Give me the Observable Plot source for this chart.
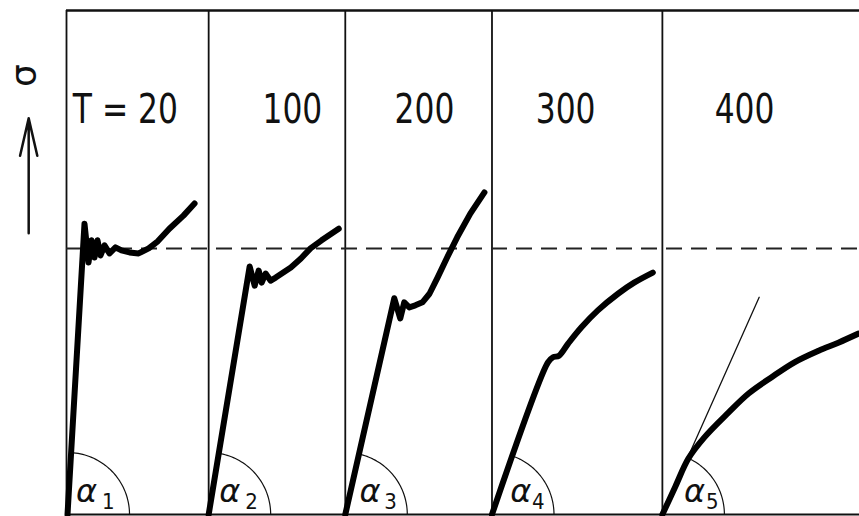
<!DOCTYPE html>
<html><head><meta charset="utf-8">
<script src="https://cdn.jsdelivr.net/npm/d3@7"></script>
<script src="https://cdn.jsdelivr.net/npm/@observablehq/plot@0.6"></script>
<style>body{margin:0;background:#fff} svg{display:block;background:#fff}</style>
</head><body><div id="chart"></div>
<script>
// Temperature panels (labels) and where each panel starts on the strain axis (arbitrary units)
const temps = ["T = 20", "100", "200", "300", "400"];
const panelStart = [0, 28.2, 55.3, 84.4, 118.2];
const panelEnd = 157.3;
const labelX = [11.7, 44.8, 71.0, 99.0, 134.5];
const labelY = 80.2;
const yieldStress = 52.8;

// Stress-strain curves, strain measured from each panel's origin
const strain1 = [0.2, 3.57, 4.37, 4.96, 5.56, 6.15, 6.75, 7.54, 8.53, 9.72, 10.9, 12.5, 14.3, 16.3, 18.1, 20.4, 23.2, 25.4];
const stress1 = [0, 57.7, 50.0, 54.4, 51.0, 54.4, 51.4, 53.4, 51.8, 53.0, 52.4, 52.0, 51.8, 52.8, 54.2, 56.7, 59.3, 61.7];
const strain2 = [0, 8.13, 9.13, 9.92, 10.5, 11.3, 12.3, 13.3, 14.5, 16.3, 18.3, 20.2, 22.4, 25.8];
const stress2 = [0, 49.2, 45.4, 48.4, 46.0, 47.8, 46.4, 47.0, 47.8, 49.0, 50.8, 52.8, 54.4, 56.7];
const strain3 = [0, 9.72, 10.9, 11.7, 12.7, 13.9, 15.3, 16.7, 18.3, 20.2, 22.2, 24.8, 27.6];
const stress3 = [0, 42.9, 38.9, 42.1, 41.1, 41.5, 42.1, 43.8, 47.0, 51.0, 55.0, 59.7, 63.9];
const strain4 = [0, 11.1, 12.1, 13.3, 15.1, 17.7, 21.0, 25.0, 28.2, 31.9];
const stress4 = [0, 30.2, 31.2, 31.5, 33.9, 37.1, 40.5, 43.8, 46.0, 48.0];
const strain5 = [0, 2.58, 5.16, 8.33, 13.1, 17.1, 21.6, 26.2, 31.0, 34.9, 38.9];
const stress5 = [0, 5.56, 11.1, 15.3, 20.2, 24.0, 27.2, 30.2, 32.5, 34.1, 35.9];
// Initial tangent drawn in the 400 panel
const tangentStrain = [0, 19.2];
const tangentStress = [0, 43.1];

// Angle labels α1..α5
const alphaSub = ["1", "2", "3", "4", "5"];
const alphaX = [4.0, 4.2, 4.9, 5.7, 6.4];
const subX = [8.3, 8.5, 9.0, 9.2, 9.9];
const alphaY = 4.6, subY = 2.5;
const arcRadius = 12.3;

const strains = [strain1, strain2, strain3, strain4, strain5];
const stresses = [stress1, stress2, stress3, stress4, stress5];

const curveRows = strains.flatMap((s, i) => s.map((e, j) => ({panel: i, x: panelStart[i] + e, y: stresses[i][j]})));
const tangentRows = tangentStrain.map((e, j) => ({x: panelStart[4] + e, y: tangentStress[j]}));

// Arcs marking the initial slope angle α of each curve
const arcRows = strains.flatMap((s, i) => {
  const ex = i === 4 ? tangentStrain[1] : s[1] - s[0];
  const ey = i === 4 ? tangentStress[1] : stresses[i][1];
  const th = Math.atan2(ey, ex);
  const n = 40;
  return d3.range(n + 1).map(k => {
    const a = th * k / n;
    return {panel: i, x: panelStart[i] + s[0] + arcRadius * Math.cos(a), y: arcRadius * Math.sin(a)};
  });
});

const labelFont = "'DejaVu Sans Condensed', 'DejaVu Sans', sans-serif";

const chart = Plot.plot({
  width: 859,
  height: 516,
  marginLeft: 66,
  marginRight: 0,
  marginTop: 10,
  marginBottom: 2,
  x: {domain: [0, panelEnd], axis: null},
  y: {domain: [0, 100], axis: null},
  style: {background: "#fff", color: "#111"},
  marks: [
    Plot.ruleY([0], {stroke: "#111", strokeWidth: 2}),
    Plot.ruleY([100], {stroke: "#111", strokeWidth: 2.4}),
    Plot.ruleX(panelStart, {y1: 0, y2: 100, stroke: "#111", strokeWidth: 1.8}),
    Plot.ruleY([yieldStress], {stroke: "#222", strokeWidth: 2, strokeDasharray: "16,9"}),
    Plot.line(arcRows, {x: "x", y: "y", z: "panel", stroke: "#111", strokeWidth: 1.2}),
    Plot.line(tangentRows, {x: "x", y: "y", stroke: "#111", strokeWidth: 1.3}),
    Plot.line(curveRows.filter(d => d.panel < 3), {x: "x", y: "y", z: "panel", stroke: "#000", strokeWidth: 6, strokeLinejoin: "round", strokeLinecap: "round"}),
    Plot.line(curveRows.filter(d => d.panel >= 3), {x: "x", y: "y", z: "panel", curve: "catmull-rom", stroke: "#000", strokeWidth: 6, strokeLinejoin: "round", strokeLinecap: "round"}),
    Plot.text(temps, {x: (d, i) => labelX[i], y: labelY, text: d => d, fontSize: 41, fontFamily: labelFont, fill: "#111", textAnchor: "middle", lineAnchor: "middle"}),
    Plot.text(alphaSub, {x: (d, i) => panelStart[i] + alphaX[i], y: alphaY, text: () => "α", fontSize: 32, fontStyle: "italic", fontFamily: "'DejaVu Sans', sans-serif", fill: "#111", textAnchor: "middle", lineAnchor: "middle"}),
    Plot.text(alphaSub, {x: (d, i) => panelStart[i] + subX[i], y: subY, text: d => d, fontSize: 22, fontFamily: labelFont, fill: "#111", textAnchor: "middle", lineAnchor: "middle"}),
    Plot.text(["σ"], {x: -8.3, y: 87.1, text: d => d, rotate: -90, fontSize: 36, fontFamily: "'DejaVu Sans', sans-serif", fill: "#111", textAnchor: "middle", lineAnchor: "middle"}),
    Plot.arrow([{x1: -7.5, y1: 55.8, x2: -7.5, y2: 78.6}], {x1: "x1", y1: "y1", x2: "x2", y2: "y2", stroke: "#111", strokeWidth: 2.5, headLength: 26, headAngle: 26})
  ]
});
document.getElementById("chart").appendChild(chart);
// Narrow the temperature labels horizontally (about their own centre) to match the condensed lettering
d3.select(chart).selectAll("text").filter(function () { return temps.includes(this.textContent); }).each(function () {
  const b = this.getBBox();
  const cx = b.x + b.width / 2;
  const t = this.getAttribute("transform") || "";
  this.setAttribute("transform", `${t} translate(${cx},0) scale(0.85,1) translate(${-cx},0)`);
});
</script>
</body></html>
